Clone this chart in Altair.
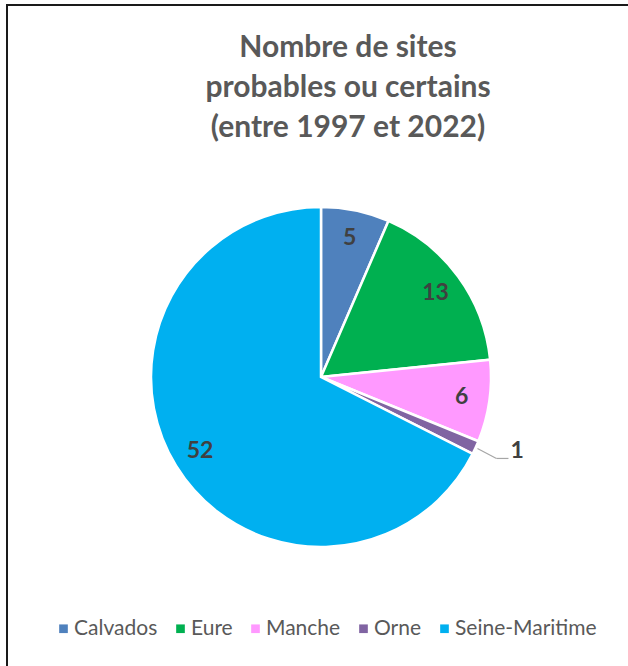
import altair as alt
import pandas as pd

categories = ["Calvados", "Eure", "Manche", "Orne", "Seine-Maritime"]
values = [5, 13, 6, 1, 52]
colors = ["#4F81BD", "#00B050", "#FF99FF", "#8064A2", "#00B0F0"]
title_lines = ["Nombre de sites", "probables ou certains", "(entre 1997 et 2022)"]
outside_label = "Orne"

df = pd.DataFrame({"category": categories, "value": values, "idx": list(range(len(categories)))})

CX, CY, R = 321, 377, 170
FONT = "Lato"

base = alt.Chart(df).encode(
    theta=alt.Theta("value:Q", stack=True),
    order=alt.Order("idx:Q"),
    x=alt.value(CX),
    y=alt.value(CY),
)

arcs = base.mark_arc(outerRadius=R, stroke="white", strokeWidth=2.5).encode(
    color=alt.Color(
        "category:N",
        scale=alt.Scale(domain=categories, range=colors),
        sort=categories,
        legend=alt.Legend(
            orient="none", legendX=53, legendY=618, direction="horizontal", title=None,
            symbolType="square", symbolSize=75, symbolStrokeWidth=0,
            labelFont=FONT, labelFontSize=21, labelColor="#595959", labelLimit=300,
            columnPadding=12, labelOffset=0,
        ),
    )
)

inner_labels = base.transform_calculate(
    label=f"datum.category == '{outside_label}' ? '' : datum.value"
).mark_text(radius=142, font=FONT, fontWeight="bold", fontSize=23, color="#404040").encode(
    text="label:N"
)

outer_label = base.transform_calculate(
    label=f"datum.category == '{outside_label}' ? datum.value : ''"
).mark_text(radius=208, dx=7, dy=-12, font=FONT, fontWeight="bold", fontSize=23, color="#404040").encode(
    text="label:N"
)

leader_base = alt.Chart(df).transform_joinaggregate(
    total="sum(value)"
).transform_window(
    cum="sum(value)", sort=[alt.SortField("idx")], frame=[None, 0]
).transform_calculate(
    mid="(datum.cum - datum.value/2) / datum.total * 2 * PI"
).transform_filter(
    alt.datum.category == outside_label
).transform_calculate(
    xa=f"{CX} + {R + 2} * sin(datum.mid)",
    ya=f"{CY} - {R + 2} * cos(datum.mid)",
).transform_calculate(
    xb="datum.xa + 19", yb="datum.ya + 10"
).transform_calculate(
    xc="datum.xb + 12"
)

leader1 = leader_base.mark_rule(color="#A6A6A6", strokeWidth=1.2).encode(
    x=alt.X("xa:Q", scale=None), y=alt.Y("ya:Q", scale=None),
    x2="xb:Q", y2="yb:Q",
)
leader2 = leader_base.mark_rule(color="#A6A6A6", strokeWidth=1.2).encode(
    x=alt.X("xb:Q", scale=None), y=alt.Y("yb:Q", scale=None),
    x2="xc:Q", y2="yb:Q",
)

one = pd.DataFrame({"a": [0]})
title = alt.Chart(one).mark_text(
    font=FONT, fontWeight="bold", fontSize=30, color="#595959",
    lineBreak="\n", lineHeight=40, align="center", baseline="middle",
).encode(x=alt.value(348), y=alt.value(48), text=alt.value("\n".join(title_lines)))

border_v = alt.Chart(one).mark_rule(color="#1a1a1a", strokeWidth=2).encode(
    x=alt.value(7), y=alt.value(4), y2=alt.value(700)
)
border_h = alt.Chart(one).mark_rule(color="#1a1a1a", strokeWidth=2).encode(
    x=alt.value(6), x2=alt.value(700), y=alt.value(5)
)

chart = alt.layer(arcs, inner_labels, outer_label, leader1, leader2, title, border_v, border_h).properties(
    width=628, height=666, autosize=alt.AutoSizeParams(type="none"), padding=0, background="white"
).configure_view(stroke=None)

chart.save("out.html", embed_options={"renderer": "svg", "actions": False})
